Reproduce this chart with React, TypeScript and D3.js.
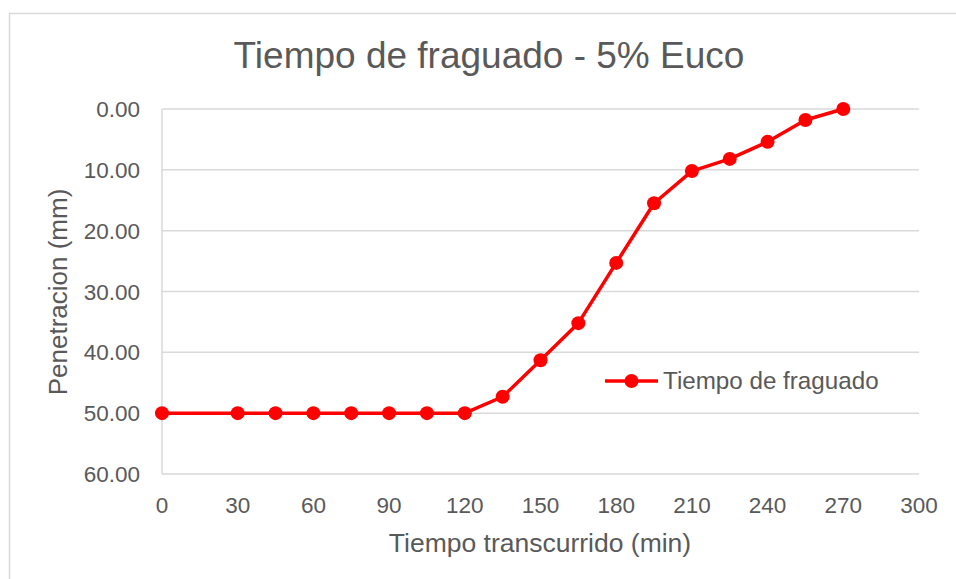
import React from "react";
import * as d3 from "d3";

const times = [0, 30, 45, 60, 75, 90, 105, 120, 135, 150, 165, 180, 195, 210, 225, 240, 255, 270];
const penetration = [50, 50, 50, 50, 50, 50, 50, 50, 47.3, 41.3, 35.2, 25.3, 15.5, 10.2, 8.2, 5.4, 1.8, 0];
const xTicks = [0, 30, 60, 90, 120, 150, 180, 210, 240, 270, 300];
const yTicks = [0, 10, 20, 30, 40, 50, 60];
const title = "Tiempo de fraguado - 5% Euco";
const xTitle = "Tiempo transcurrido (min)";
const yTitle = "Penetracion (mm)";
const seriesName = "Tiempo de fraguado";

const W = 956;
const H = 579;
const left = 162;
const right = 919;
const top = 109;
const bottom = 474;
const font = "'Liberation Sans', Arial, sans-serif";
const textColor = "#595959";
const red = "#FF0000";

export default function App() {
  const x = d3.scaleLinear().domain([0, 300]).range([left, right]);
  const y = d3.scaleLinear().domain([0, 60]).range([top, bottom]);
  const data = times.map((t, i) => [t, penetration[i]] as [number, number]);
  const line = d3.line<[number, number]>().x((d) => x(d[0])).y((d) => y(d[1]));

  return (
    <svg width={W} height={H} style={{ position: "absolute", left: 0, top: 0, background: "#fff" }}>
      <rect x={9.5} y={13.5} width={W} height={H} fill="#fff" stroke="#d9d9d9" strokeWidth={1.5} />
      <text x={489} y={68} textAnchor="middle" fontFamily={font} fontSize={37} fill={textColor}>
        {title}
      </text>
      {yTicks.map((t) => (
        <g key={t}>
          <line x1={left} x2={right} y1={y(t)} y2={y(t)} stroke="#d9d9d9" strokeWidth={1.5} />
          <text x={140} y={y(t) + 8} textAnchor="end" fontFamily={font} fontSize={22.5} fill={textColor}>
            {t.toFixed(2)}
          </text>
        </g>
      ))}
      <line x1={left} x2={left} y1={top} y2={bottom} stroke="#d9d9d9" strokeWidth={1.5} />
      {xTicks.map((t) => (
        <text key={t} x={x(t)} y={513} textAnchor="middle" fontFamily={font} fontSize={22.5} fill={textColor}>
          {t}
        </text>
      ))}
      <text x={540} y={552} textAnchor="middle" fontFamily={font} fontSize={26.5} fill={textColor}>
        {xTitle}
      </text>
      <text
        transform={`translate(67,292) rotate(-90)`}
        textAnchor="middle"
        fontFamily={font}
        fontSize={26}
        fill={textColor}
      >
        {yTitle}
      </text>
      <path d={line(data) || ""} fill="none" stroke={red} strokeWidth={3.5} strokeLinejoin="round" />
      {data.map((d, i) => (
        <circle key={i} cx={x(d[0])} cy={y(d[1])} r={7} fill={red} />
      ))}
      <line x1={605} x2={658} y1={381} y2={381} stroke={red} strokeWidth={3.5} />
      <circle cx={631.5} cy={381} r={7} fill={red} />
      <text x={663} y={389} fontFamily={font} fontSize={24.2} fill={textColor}>
        {seriesName}
      </text>
    </svg>
  );
}
